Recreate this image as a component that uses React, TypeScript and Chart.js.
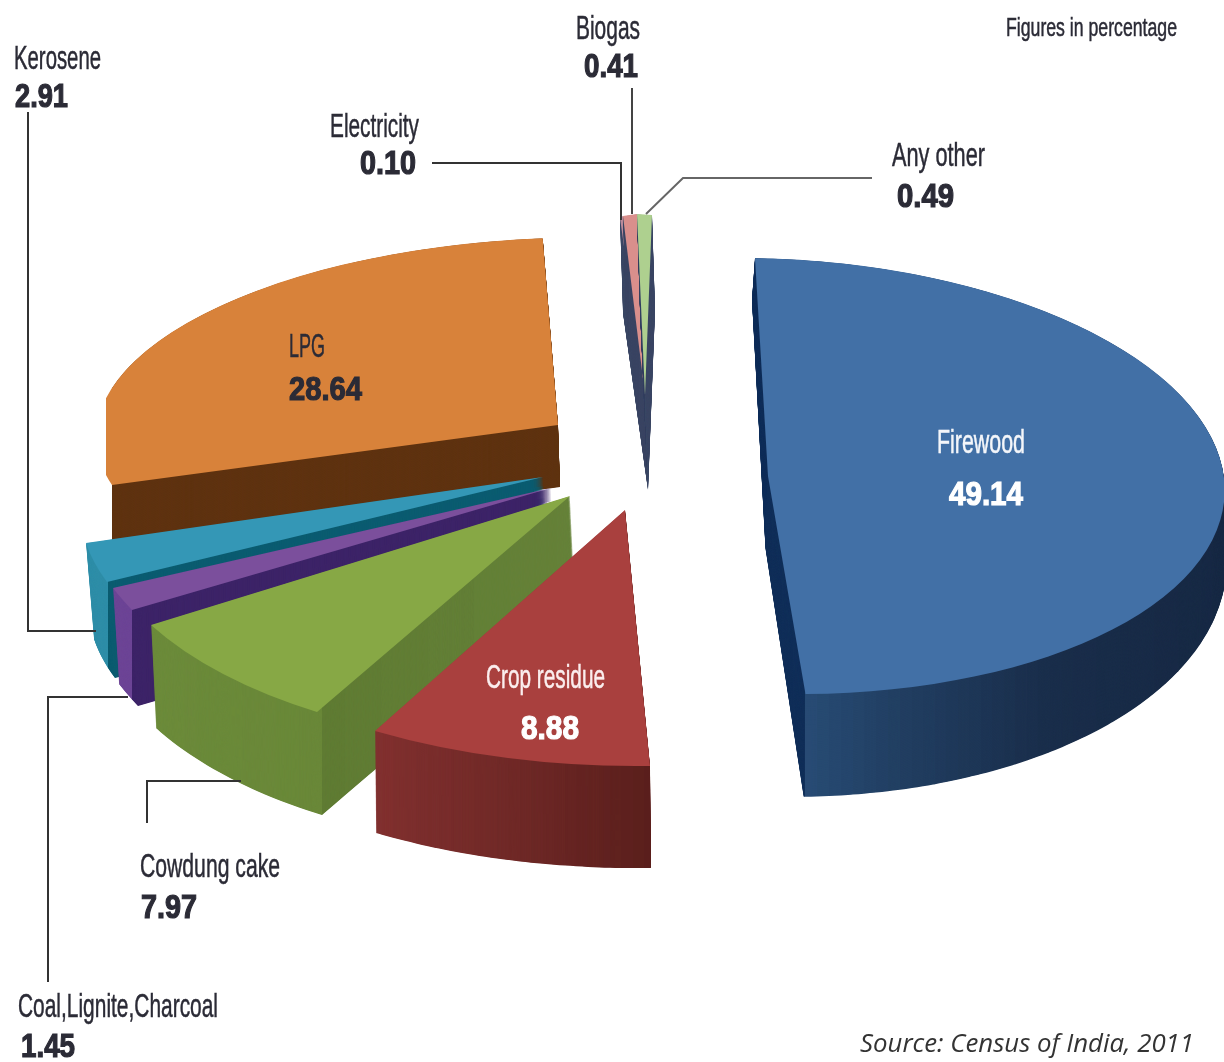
import React, { useEffect, useRef } from "react";
import { Chart, registerables } from "chart.js";

Chart.register(...registerables);

// ---- data ----
const categories = ["Firewood", "Crop residue", "Cowdung cake", "Coal,Lignite,Charcoal", "Kerosene", "LPG", "Electricity", "Biogas", "Any other"];
const shares = [49.14, 8.88, 7.97, 1.45, 2.91, 28.64, 0.1, 0.41, 0.49];
const topColors = ["#4270a6", "#a9403e", "#87a845", "#7b4f9c", "#3497b6", "#d8823a", "#b98a9a", "#d98f8c", "#aed08f"];
const note = "Figures in percentage";
const source = "Source: Census of India, 2011";

type Pt = [number, number];
type View = {
  o: Pt; a: Pt; b: Pt; f?: number;
  drop?: Pt;
  base?: { o: Pt; a: Pt; b: Pt };
  minX?: number;
  side: [number, string][];
};

// 3D projection of each exploded wedge: apex and two rim anchors on the top face
const views: View[] = [
  { o: [768, 476], a: [755, 258], b: [1224, 478], f: 0.5,
    base: { o: [765.5, 548.4], a: [752, 300], b: [1226, 548] },
    side: [[740, "#12305a"], [805, "#12305a"], [805, "#284c75"], [900, "#223f62"], [1050, "#1a2e4b"], [1224, "#182a45"]] },
  { o: [625, 510], a: [650, 766], b: [375, 731], drop: [1, 102],
    side: [[370, "#823130"], [520, "#6f2927"], [655, "#5a1f1c"]] },
  { o: [570, 496], a: [317, 712], b: [151, 625], drop: [5, 103],
    side: [[150, "#6c8b3b"], [322, "#6a8839"], [322, "#607c34"], [580, "#66823a"]] },
  { o: [551, 488], a: [132, 610], b: [113, 588], drop: [6, 96],
    side: [[110, "#6d4596"], [132, "#6d4596"], [132, "#3d2468"], [560, "#3d2468"]] },
  { o: [543, 477], a: [107, 582], b: [86, 543], drop: [8, 96],
    side: [[80, "#2f8ea8"], [108, "#2f8ea8"], [108, "#0b5c70"], [550, "#0b5c70"]] },
  { o: [558, 425], a: [112, 485], b: [187, 323], f: 0.5, drop: [2, 62], minX: 106,
    side: [[112, "#5f3310"], [565, "#5f3310"]] },
  { o: [645, 395], a: [620, 218], b: [623, 216], drop: [3, 95],
    side: [[610, "#3d4866"], [660, "#3d4866"]] },
  { o: [645, 395], a: [623, 216], b: [637, 214], drop: [3, 95],
    side: [[610, "#3d4866"], [660, "#3d4866"]] },
  { o: [645, 395], a: [637, 214], b: [652, 215], drop: [3, 95],
    side: [[610, "#3d4866"], [660, "#3d4866"]] },
];
const paintOrder = [6, 7, 8, 5, 4, 3, 2, 1, 0];

const NARROW = '"Liberation Sans Narrow", "Liberation Sans", sans-serif';
const DARK = "#2b2b36";

type Label = { text: string; x: number; y: number; w: number; bold?: boolean; color?: string; size?: number };
const v = (i: number) => shares[i].toFixed(2);
const labels: Label[] = [
  { text: categories[4], x: 14, y: 69, w: 87 },
  { text: v(4), x: 15, y: 107, w: 53, bold: true },
  { text: categories[7], x: 576, y: 39, w: 64 },
  { text: v(7), x: 584, y: 77, w: 54, bold: true },
  { text: categories[6], x: 330, y: 137, w: 89 },
  { text: v(6), x: 360, y: 174, w: 56, bold: true },
  { text: categories[8], x: 892, y: 166, w: 93 },
  { text: v(8), x: 897, y: 207, w: 57, bold: true },
  { text: note, x: 1006, y: 36, w: 171, size: 25 },
  { text: categories[5], x: 289, y: 357, w: 36 },
  { text: v(5), x: 289, y: 400, w: 73, bold: true },
  { text: categories[0], x: 937, y: 453, w: 88, color: "#f4f6fa" },
  { text: v(0), x: 949, y: 505, w: 74, bold: true, color: "#ffffff" },
  { text: categories[1], x: 486, y: 688, w: 119, color: "#fbeeee" },
  { text: v(1), x: 521, y: 739, w: 58, bold: true, color: "#ffffff" },
  { text: categories[2], x: 140, y: 877, w: 140 },
  { text: v(2), x: 141, y: 918, w: 56, bold: true },
  { text: categories[3], x: 18, y: 1017, w: 200 },
  { text: v(3), x: 21, y: 1057, w: 54, bold: true },
];

const leaders: { pts: Pt[]; color: string }[] = [
  { pts: [[28, 112], [28, 631], [96, 631]], color: "#333" },
  { pts: [[48, 982], [48, 697], [128, 697]], color: "#333" },
  { pts: [[147, 823], [147, 781], [241, 781]], color: "#333" },
  { pts: [[432, 163], [621, 163], [621, 220]], color: "#333" },
  { pts: [[632, 88], [632, 214]], color: "#444" },
  { pts: [[872, 178], [683, 178], [646, 214]], color: "#666" },
];

const hex = (c: string) => [1, 3, 5].map((i) => parseInt(c.slice(i, i + 2), 16));
const mix = (p: string, q: string, t: number) => {
  const A = hex(p), B = hex(q);
  return `rgb(${A.map((x, i) => Math.round(x + (B[i] - x) * t)).join(",")})`;
};

// affine matrix sending unit vectors at angles t1, t2 to the rim vectors
function solve(o: Pt, a: Pt, b: Pt, t1: number, t2: number) {
  const u = [Math.cos(t1), Math.sin(t1)], w = [Math.cos(t2), Math.sin(t2)];
  const det = u[0] * w[1] - w[0] * u[1];
  const va = [a[0] - o[0], a[1] - o[1]], vb = [b[0] - o[0], b[1] - o[1]];
  return [
    (va[0] * w[1] - vb[0] * u[1]) / det,
    (va[1] * w[1] - vb[1] * u[1]) / det,
    (vb[0] * u[0] - va[0] * w[0]) / det,
    (vb[1] * u[0] - va[1] * w[0]) / det,
    o[0],
    o[1],
  ];
}

const pie3d = {
  id: "pie3d",
  beforeDatasetsDraw(chart: any) {
    const { ctx } = chart;
    const arcs = chart.getDatasetMeta(0).data;
    paintOrder.forEach((idx) => {
      const arc = arcs[idx];
      const view = views[idx];
      const R = arc.outerRadius;
      const t1 = arc.startAngle;
      const t2 = t1 + (arc.endAngle - t1) * (view.f ?? 1);
      const top = solve(view.o, view.a, view.b, t1, t2);
      const d = view.drop ?? [0, 0];
      const low = view.base
        ? solve(view.base.o, view.base.a, view.base.b, t1, t2)
        : [top[0], top[1], top[2], top[3], top[4] + d[0], top[5] + d[1]];
      const depth = Math.max(Math.abs(low[5] - top[5]), Math.abs(low[4] - top[4]), 80);
      const steps = Math.ceil(depth * 2);
      const saved = arc.options;
      const paint = (t: number, color: string) => {
        const m = top.map((x, i) => x + (low[i] - x) * t);
        ctx.save();
        ctx.transform(m[0] / R, m[1] / R, m[2] / R, m[3] / R, m[4], m[5]);
        ctx.translate(-arc.x, -arc.y);
        arc.options = { ...saved, backgroundColor: color, borderWidth: 0 };
        arc.draw(ctx);
        ctx.restore();
      };
      // extruded wall, banded in x so that it shades like the reference
      for (let s = 0; s + 1 < view.side.length; s++) {
        const [x0, c0] = view.side[s];
        const [x1, c1] = view.side[s + 1];
        if (x1 <= x0) continue;
        const n = Math.max(1, Math.ceil((x1 - x0) / 12));
        for (let b = 0; b < n; b++) {
          const xa = x0 + ((x1 - x0) * b) / n;
          const xb = x0 + ((x1 - x0) * (b + 1)) / n;
          ctx.save();
          ctx.beginPath();
          ctx.rect(Math.round(xa), 0, Math.round(xb) - Math.round(xa), chart.height);
          ctx.clip();
          const col = mix(c0, c1, (b + 0.5) / n);
          for (let k = steps; k >= 1; k--) paint(k / steps, col);
          ctx.restore();
        }
      }
      ctx.save();
      if (view.minX) {
        ctx.beginPath();
        ctx.rect(view.minX, 0, chart.width, chart.height);
        ctx.clip();
      }
      paint(0, topColors[idx]);
      ctx.restore();
      arc.options = saved;
    });
    return false;
  },
  afterDraw(chart: any) {
    const { ctx } = chart;
    ctx.save();
    ctx.lineWidth = 2;
    ctx.lineJoin = "miter";
    leaders.forEach((l) => {
      ctx.strokeStyle = l.color;
      ctx.beginPath();
      l.pts.forEach((p, i) => (i ? ctx.lineTo(p[0], p[1]) : ctx.moveTo(p[0], p[1])));
      ctx.stroke();
    });
    ctx.textBaseline = "alphabetic";
    ctx.textAlign = "left";
    labels.forEach((l) => {
      ctx.save();
      ctx.font = `${l.bold ? "bold " : ""}${l.size ?? 33}px ${NARROW}`;
      ctx.fillStyle = l.color ?? DARK;
      ctx.strokeStyle = l.color ?? DARK;
      ctx.lineWidth = l.bold ? 1.2 : 0.5;
      const mw = ctx.measureText(l.text).width;
      ctx.translate(l.x, l.y);
      ctx.scale(l.w / mw, 1);
      ctx.fillText(l.text, 0, 0);
      ctx.strokeText(l.text, 0, 0);
      ctx.restore();
    });
    ctx.font = 'italic 25px "Open Sans", "DejaVu Sans", sans-serif';
    ctx.fillStyle = "#333";
    const sw = ctx.measureText(source).width;
    ctx.translate(860, 1052);
    ctx.scale(334 / sw, 1);
    ctx.fillText(source, 0, 0);
    ctx.restore();
  },
};

export default function App() {
  const ref = useRef<HTMLCanvasElement>(null);
  useEffect(() => {
    document.body.style.margin = "0";
    document.body.style.background = "#fff";
    const chart = new Chart(ref.current as HTMLCanvasElement, {
      type: "pie",
      data: {
        labels: categories,
        datasets: [{ data: shares, backgroundColor: topColors, borderWidth: 0 }],
      },
      options: {
        animation: false,
        responsive: false,
        devicePixelRatio: 1,
        rotation: -3,
        layout: { padding: 0 },
        plugins: { legend: { display: false }, tooltip: { enabled: false } },
      },
      plugins: [pie3d],
    } as any);
    return () => chart.destroy();
  }, []);
  return <canvas ref={ref} width={1224} height={1062} style={{ display: "block", filter: "blur(0.5px)" }} />;
}
